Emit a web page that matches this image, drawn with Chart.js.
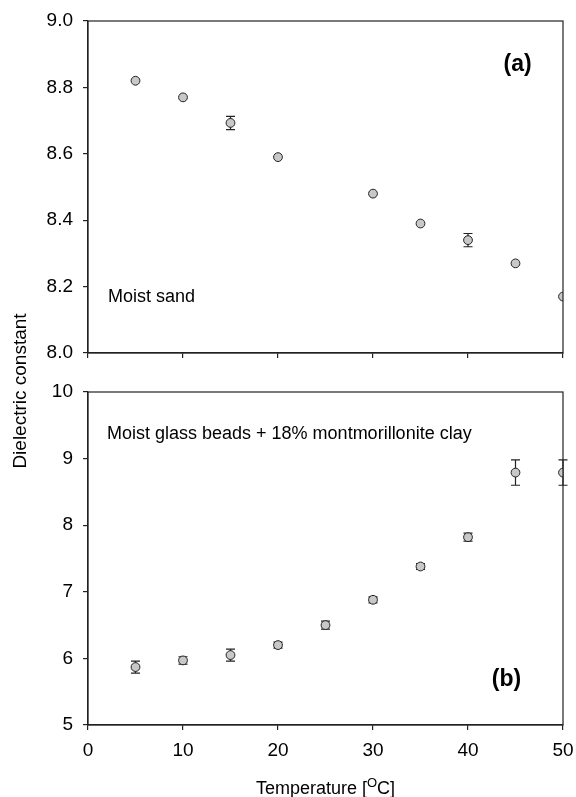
<!DOCTYPE html>
<html lang="en">
<head>
  <meta charset="UTF-8">
  <title>Dielectric constant vs temperature</title>
  <script src="https://cdn.jsdelivr.net/npm/chart.js"></script>
  <style>
    html,body{width:576px;height:797px;margin:0;padding:0;overflow:hidden;background:#fff}
    canvas{position:absolute;left:0;top:0}
  </style>
</head>
<body>
  <canvas id="topChart" width="576" height="797"></canvas>
  <canvas id="botChart" width="576" height="797"></canvas>
<script>
/* ---------- data ---------- */
const sandTemp=[5,10,15,20,30,35,40,45,50];
const sandVal =[8.82,8.77,8.693,8.59,8.48,8.39,8.34,8.27,8.17];
const sandErr =[0,0,0.02,0,0,0,0.02,0,0];

const clayTemp=[5,10,15,20,25,30,35,40,45,50];
const clayVal =[5.87,5.97,6.05,6.20,6.50,6.88,7.38,7.82,8.79,8.79];
const clayErr =[0.09,0.055,0.09,0.045,0.06,0.045,0.045,0.06,0.19,0.19];

const xTicks=[0,10,20,30,40,50];
const sandTicks=[8.0,8.2,8.4,8.6,8.8,9.0];
const clayTicks=[5,6,7,8,9,10];

const FONT='"Liberation Sans", Arial, sans-serif';
const INK='#222';

/* ---------- helpers ---------- */
const pts=(xs,ys)=>xs.map((x,i)=>({x:x,y:ys[i]}));

const errorBars={
  id:'errorBars',
  beforeDatasetsDraw(chart,args,opts){
    const {ctx,scales:{x,y}}=chart;
    const xs=opts.xs, ys=opts.ys, es=opts.es;
    ctx.save();ctx.strokeStyle=INK;ctx.lineWidth=1.2;
    xs.forEach((xv,i)=>{
      if(!es[i])return;
      const px=x.getPixelForValue(xv);
      const y1=y.getPixelForValue(ys[i]+es[i]), y2=y.getPixelForValue(ys[i]-es[i]);
      ctx.beginPath();
      ctx.moveTo(px,y1);ctx.lineTo(px,y2);
      ctx.moveTo(px-4.5,y1);ctx.lineTo(px+4.5,y1);
      ctx.moveTo(px-4.5,y2);ctx.lineTo(px+4.5,y2);
      ctx.stroke();
    });
    ctx.restore();
  }
};

const frame={
  id:'frame',
  afterDraw(chart,args,opts){
    const {ctx,chartArea:a,scales:{x,y}}=chart;
    ctx.save();ctx.strokeStyle=INK;ctx.lineWidth=1.2;
    ctx.strokeRect(a.left,a.top,a.right-a.left,a.bottom-a.top);
    ctx.fillStyle='#000';ctx.textBaseline='middle';
    (opts.labels||[]).forEach(l=>{
      ctx.font=(l.bold?'bold ':'')+l.size+'px '+FONT;
      ctx.textAlign=l.align;
      ctx.fillText(l.text,x.getPixelForValue(l.x),y.getPixelForValue(l.y));
    });
    if(opts.titles){
      // y title spanning both panels
      ctx.save();
      ctx.translate(21,391);ctx.rotate(-Math.PI/2);
      ctx.font='19px '+FONT;ctx.textAlign='center';
      ctx.fillText('Dielectric constant',0,0);
      ctx.restore();
      // x title with superscript O
      const big='18px '+FONT, small='13px '+FONT;
      const p1='Temperature [', p2='O', p3='C]';
      ctx.font=big;const w1=ctx.measureText(p1).width, w3=ctx.measureText(p3).width;
      ctx.font=small;const w2=ctx.measureText(p2).width;
      let cx=(a.left+a.right)/2-(w1+w2+w3)/2;
      const by=794;
      ctx.textAlign='left';ctx.textBaseline='alphabetic';
      ctx.font=big;ctx.fillText(p1,cx,by);cx+=w1;
      ctx.font=small;ctx.fillText(p2,cx,by-7);cx+=w2;
      ctx.font=big;ctx.fillText(p3,cx,by);
    }
    ctx.restore();
  }
};

function makeChart(id,cfg){
  return new Chart(document.getElementById(id),{
    type:'scatter',
    data:{datasets:[{data:pts(cfg.xs,cfg.ys),pointRadius:4.4,pointHoverRadius:4.4,
      backgroundColor:'#c8c8c8',borderColor:INK,borderWidth:1}]},
    options:{
      responsive:false,animation:false,
      layout:{padding:{top:cfg.top,right:13,left:0,bottom:0}},
      plugins:{legend:{display:false},tooltip:{enabled:false},
        errorBars:{xs:cfg.xs,ys:cfg.ys,es:cfg.es},
        frame:{labels:cfg.labels,titles:cfg.titles}},
      scales:{
        x:{type:'linear',min:0,max:50,
          afterBuildTicks:s=>{s.ticks=xTicks.map(v=>({value:v}));},
          afterFit:s=>{s.height=cfg.xh;s.paddingLeft=0;s.paddingRight=0;},
          grid:{drawOnChartArea:false,tickLength:5,color:INK,lineWidth:1.2},
          border:{color:INK,width:1.2},
          ticks:{display:cfg.showX,color:'#000',padding:9,font:{family:FONT,size:19}}},
        y:{type:'linear',min:cfg.ymin,max:cfg.ymax,
          afterBuildTicks:s=>{s.ticks=cfg.yt.map(v=>({value:v}));},
          afterFit:s=>{s.width=88;s.paddingTop=0;s.paddingBottom=0;},
          grid:{drawOnChartArea:false,tickLength:5,color:INK,lineWidth:1.2},
          border:{color:INK,width:1.2},
          ticks:{color:'#000',padding:10,font:{family:FONT,size:19},
            callback:v=>cfg.fmt(v)}}
      }
    },
    plugins:[errorBars,frame]
  });
}

makeChart('topChart',{xs:sandTemp,ys:sandVal,es:sandErr,ymin:8,ymax:9,yt:sandTicks,
  top:21,xh:797-353,showX:false,fmt:v=>v.toFixed(1),
  labels:[{text:'(a)',x:46.7,y:8.868,align:'right',bold:true,size:23},
          {text:'Moist sand',x:2.1,y:8.17,align:'left',size:18}]});

makeChart('botChart',{xs:clayTemp,ys:clayVal,es:clayErr,ymin:5,ymax:10,yt:clayTicks,
  top:392,xh:797-725,showX:true,fmt:v=>String(v),titles:true,
  labels:[{text:'(b)',x:45.6,y:5.68,align:'right',bold:true,size:23},
          {text:'Moist glass beads + 18% montmorillonite clay',x:2.0,y:9.37,align:'left',size:18}]});
</script>
</body>
</html>
